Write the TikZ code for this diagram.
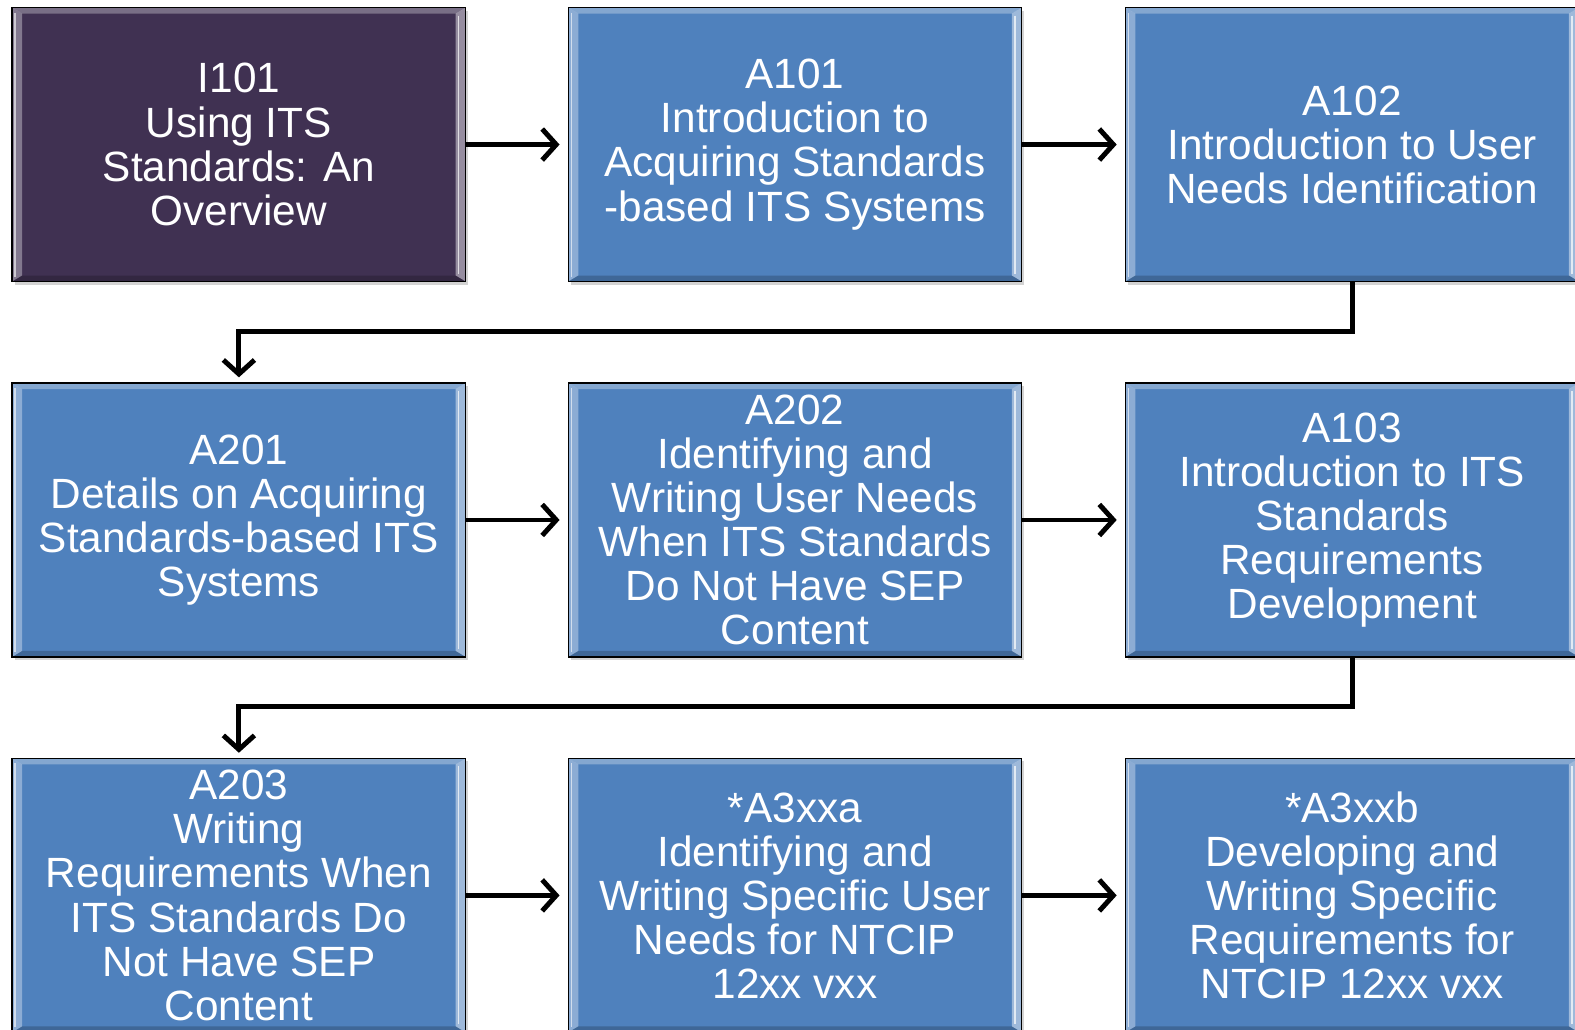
\documentclass[tikz,border=0pt]{standalone}
\usepackage{fontspec}
\setmainfont{Liberation Sans}
\usetikzlibrary{arrows.meta,shadows}
\definecolor{boxblue}{RGB}{79,129,189}
\definecolor{boxpurple}{RGB}{64,49,82}
\begin{document}
\begin{tikzpicture}[x=0.02cm, y=0.02cm,
    course/.style={draw=black, line width=0.7pt, fill=boxblue, text=white, align=center,
      minimum width=9.04cm, minimum height=5.46cm, inner sep=0pt,
      font=\fontsize{24}{25}\selectfont,
      drop shadow={shadow xshift=0.05cm, shadow yshift=-0.06cm, opacity=0.35},
      path picture={
        \fill[white, opacity=0.3] (path picture bounding box.north west) -- (path picture bounding box.north east)
          -- ([shift={(-0.2cm,-0.12cm)}]path picture bounding box.north east) -- ([shift={(0.2cm,-0.12cm)}]path picture bounding box.north west) -- cycle;
        \fill[white, opacity=0.35] (path picture bounding box.north west) -- ([shift={(0.2cm,-0.12cm)}]path picture bounding box.north west)
          -- ([shift={(0.2cm,0.12cm)}]path picture bounding box.south west) -- (path picture bounding box.south west) -- cycle;
        \fill[white, opacity=0.45] (path picture bounding box.north east) -- ([shift={(-0.2cm,-0.12cm)}]path picture bounding box.north east)
          -- ([shift={(-0.2cm,0.12cm)}]path picture bounding box.south east) -- (path picture bounding box.south east) -- cycle;
        \fill[black, opacity=0.2] (path picture bounding box.south west) -- (path picture bounding box.south east)
          -- ([shift={(-0.2cm,0.12cm)}]path picture bounding box.south east) -- ([shift={(0.2cm,0.12cm)}]path picture bounding box.south west) -- cycle;
        \draw[white, opacity=0.6, line width=0.8pt] ([shift={(0.06cm,-0.1cm)}]path picture bounding box.north west) -- ([shift={(0.06cm,0.1cm)}]path picture bounding box.south west);
        \draw[white, opacity=0.7, line width=0.8pt] ([shift={(-0.14cm,-0.16cm)}]path picture bounding box.north east) -- ([shift={(-0.14cm,0.16cm)}]path picture bounding box.south east);
      }},
    flow/.style={line width=2.8pt, -{Straight Barb[length=0.28cm, width=0.62cm, line width=2.8pt]}, shorten >=0.16cm}]
  \node[course, fill=boxpurple] (i101) at (238,-144) {I101\\Using ITS\\Standards: An\\Overview};
  \node[course] (a101) at (792,-144) {A101\\Introduction to\\Acquiring Standards\\-based ITS Systems};
  \node[course] (a102) at (1347,-144) {A102\\Introduction to User\\Needs Identification};
  \node[course] (a201) at (238,-518) {A201\\Details on Acquiring\\Standards-based ITS\\Systems};
  \node[course] (a202) at (792,-518) {A202\\Identifying and\\Writing User Needs\\When ITS Standards\\Do Not Have SEP\\Content};
  \node[course] (a103) at (1347,-518) {A103\\Introduction to ITS\\Standards\\Requirements\\Development};
  \node[course] (a203) at (238,-892) {A203\\Writing\\Requirements When\\ITS Standards Do\\Not Have SEP\\Content};
  \node[course] (a3xxa) at (792,-892) {*A3xxa\\Identifying and\\Writing Specific User\\Needs for NTCIP\\12xx vxx};
  \node[course] (a3xxb) at (1347,-892) {*A3xxb\\Developing and\\Writing Specific\\Requirements for\\NTCIP 12xx vxx};
  \coordinate (bend1) at (792,-330);
  \coordinate (bend2) at (792,-704);
  \draw[flow] (i101) -- (a101);
  \draw[flow] (a101) -- (a102);
  \draw[flow, shorten >=0.1cm] (a102.south) |- (bend1) -| (a201.north);
  \draw[flow] (a201) -- (a202);
  \draw[flow] (a202) -- (a103);
  \draw[flow, shorten >=0.1cm] (a103.south) |- (bend2) -| (a203.north);
  \draw[flow] (a203) -- (a3xxa);
  \draw[flow] (a3xxa) -- (a3xxb);
  \pgfresetboundingbox
  \useasboundingbox (0,0) rectangle (1569,-1026);
\end{tikzpicture}
\end{document}
